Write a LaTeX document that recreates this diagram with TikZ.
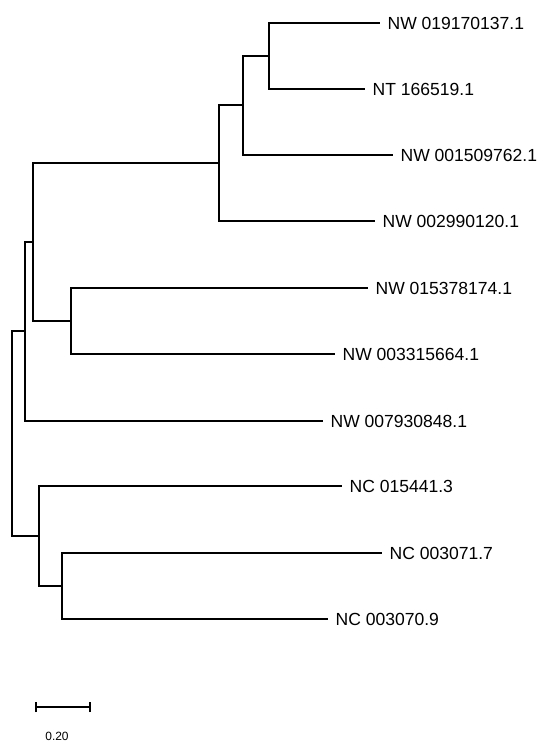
\documentclass[tikz,border=0pt]{standalone}
\usepackage{fontspec}
\setmainfont{Liberation Sans}
\usetikzlibrary{positioning}
\tikzset{leaf/.style={anchor=west,inner sep=0pt,font=\fontsize{17.6}{18}\selectfont}}

\begin{document}
\begin{tikzpicture}[x=1bp,y=-1bp,line width=1.3bp]
\useasboundingbox (0,0) rectangle (537,744);
\coordinate (r) at (12,433);
\coordinate (f) at (25,331);
\coordinate (e) at (33,242);
\coordinate (c) at (219,163);
\coordinate (b) at (243,105);
\coordinate (a) at (269,56);
\coordinate (d) at (71,321);
\coordinate (h) at (39,536);
\coordinate (g) at (62,586);
\coordinate (t1) at (380,23);
\coordinate (t2) at (365,89);
\coordinate (t3) at (393,155);
\coordinate (t4) at (375,221);
\coordinate (t5) at (368,288);
\coordinate (t6) at (335,354);
\coordinate (t7) at (323,421);
\coordinate (t8) at (342,486);
\coordinate (t9) at (382,553);
\coordinate (t10) at (328,619);
\draw (a) |- (t1); \draw (a) |- (t2);
\draw (b) |- (a); \draw (b) |- (t3);
\draw (c) |- (b); \draw (c) |- (t4);
\draw (d) |- (t5); \draw (d) |- (t6);
\draw (e) |- (c); \draw (e) |- (d);
\draw (f) |- (e); \draw (f) |- (t7);
\draw (g) |- (t9); \draw (g) |- (t10);
\draw (h) |- (t8); \draw (h) |- (g);
\draw (r) |- (f); \draw (r) |- (h);
\node[leaf, right=7bp of t1] (l1) {NW 019170137.1};
\node[leaf, right=7bp of t2] (l2) {NT 166519.1};
\node[leaf, right=7bp of t3] (l3) {NW 001509762.1};
\node[leaf, right=7bp of t4] (l4) {NW 002990120.1};
\node[leaf, right=7bp of t5] (l5) {NW 015378174.1};
\node[leaf, right=7bp of t6] (l6) {NW 003315664.1};
\node[leaf, right=7bp of t7] (l7) {NW 007930848.1};
\node[leaf, right=7bp of t8] (l8) {NC 015441.3};
\node[leaf, right=7bp of t9] (l9) {NC 003071.7};
\node[leaf, right=7bp of t10] (l10) {NC 003070.9};
\coordinate (s1) at (36,707);
\coordinate (s2) at (90,707);
\draw (s1) -- (s2);
\draw ([yshift=-5bp]s1) -- ([yshift=5bp]s1);
\draw ([yshift=-5bp]s2) -- ([yshift=5bp]s2);
\node[font=\fontsize{12}{12}\selectfont, inner sep=0pt] (scale) at (57,736) {0.20};
\end{tikzpicture}
\end{document}
